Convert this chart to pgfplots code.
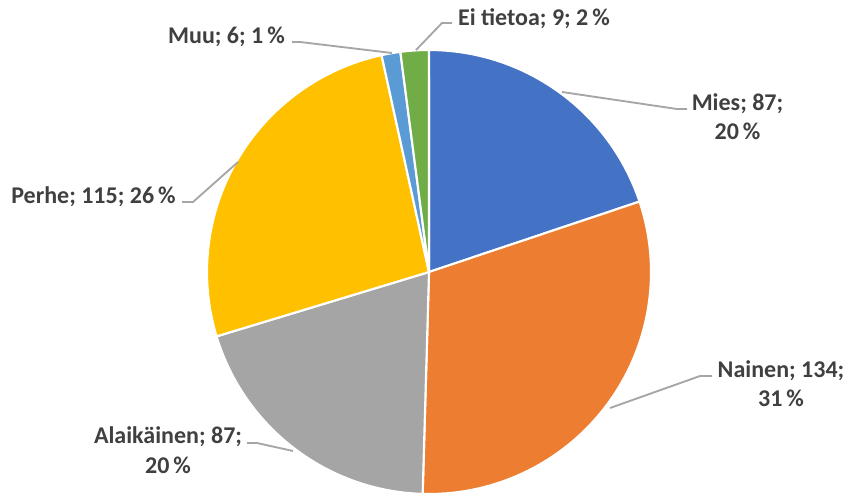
\documentclass[border=0pt]{standalone}
\usepackage{pgfplots}
\pgfplotsset{compat=1.18}
\usepackage{fontspec}
\setmainfont{Carlito}
\definecolor{cMies}{HTML}{4472C4}
\definecolor{cNainen}{HTML}{ED7D31}
\definecolor{cAlaik}{HTML}{A5A5A5}
\definecolor{cPerhe}{HTML}{FFC000}
\definecolor{cMuu}{HTML}{5B9BD5}
\definecolor{cEi}{HTML}{70AD47}
\definecolor{txt}{HTML}{404040}
\definecolor{lead}{HTML}{A6A6A6}
\tikzset{lbl/.style={font=\fontsize{18}{22}\selectfont\bfseries, text=txt, anchor=base, inner sep=0pt}}
\begin{document}
\begin{tikzpicture}
\begin{axis}[
  x=0.75pt, y=0.75pt,
  xmin=0, xmax=848, ymin=0, ymax=495, y dir=reverse,
  hide axis, clip=false, scale only axis,
]
% slices: value/colour, clockwise from 12 o'clock
\pgfplotsextra{
  \path (axis cs:0,0) rectangle (axis cs:848,495);
  \def\total{438}
  \def\a{90}
  \foreach \v/\c in {87/cMies,134/cNainen,87/cAlaik,115/cPerhe,6/cMuu,9/cEi} {
    \pgfmathsetmacro{\b}{\a - \v/\total*360}
    \filldraw[fill=\c, draw=white, line width=1.6pt, line join=round]
      (axis cs:429,272) -- ++(\a:166.5pt) arc[start angle=\a, end angle=\b, radius=166.5pt] -- cycle;
    \xdef\a{\b}
  }
  % leader lines
  \begin{scope}[draw=lead, line width=1.4pt]
    \draw (axis cs:562,92) -- (axis cs:677,109) -- (axis cs:687,109);
    \draw (axis cs:610,408) -- (axis cs:700,376) -- (axis cs:712,376);
    \draw (axis cs:293,451) -- (axis cs:257,443) -- (axis cs:247,443);
    \draw (axis cs:238,162) -- (axis cs:193,202) -- (axis cs:182,202);
    \draw (axis cs:392,53) -- (axis cs:300,42) -- (axis cs:292,42);
    \draw (axis cs:416,50) -- (axis cs:442,23) -- (axis cs:452,23);
  \end{scope}
  % labels
  \node[lbl] at (axis cs:737.5,110) {Mies; 87;};
  \node[lbl] at (axis cs:737.5,139) {20\,\%};
  \node[lbl] at (axis cs:781,377) {Nainen; 134;};
  \node[lbl] at (axis cs:781,406) {31\,\%};
  \node[lbl] at (axis cs:168,443) {Alaikäinen; 87;};
  \node[lbl] at (axis cs:168,473) {20\,\%};
  \node[lbl] at (axis cs:93.5,203) {Perhe; 115; 26\,\%};
  \node[lbl] at (axis cs:226.5,43) {Muu; 6; 1\,\%};
  \node[lbl] at (axis cs:534,25) {Ei tietoa; 9; 2\,\%};
}
\end{axis}
\end{tikzpicture}
\end{document}
